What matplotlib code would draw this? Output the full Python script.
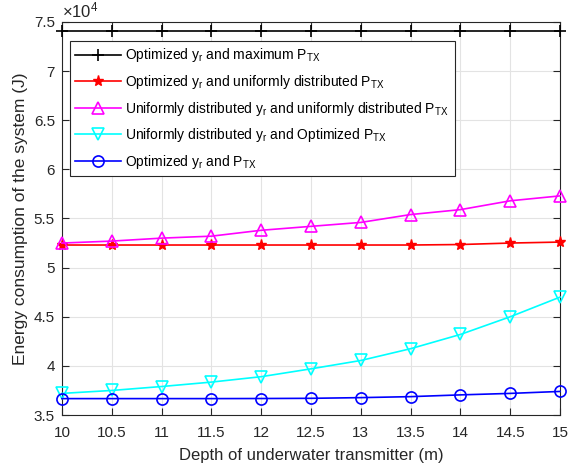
import numpy as np
import matplotlib
matplotlib.use('Agg')
import matplotlib.pyplot as plt
from matplotlib.ticker import FuncFormatter

plt.rcParams['font.family'] = ['Liberation Sans', 'DejaVu Sans']
plt.rcParams['mathtext.fontset'] = 'custom'
plt.rcParams['mathtext.rm'] = 'Liberation Sans'
plt.rcParams['mathtext.default'] = 'regular'

# depth (m) and energy (x 10^4 J)
depth = [10, 10.5, 11, 11.5, 12, 12.5, 13, 13.5, 14, 14.5, 15]
opt_max = [7.41, 7.41, 7.41, 7.41, 7.41, 7.41, 7.41, 7.41, 7.41, 7.41, 7.41]
opt_unif = [5.23, 5.23, 5.23, 5.23, 5.23, 5.23, 5.23, 5.23, 5.235, 5.25, 5.26]
unif_unif = [5.25, 5.27, 5.30, 5.32, 5.38, 5.42, 5.46, 5.54, 5.59, 5.68, 5.73]
unif_opt = [3.72, 3.75, 3.79, 3.835, 3.89, 3.97, 4.055, 4.175, 4.32, 4.50, 4.70]
opt_opt = [3.667, 3.667, 3.667, 3.667, 3.668, 3.67, 3.677, 3.687, 3.705, 3.72, 3.74]

labels = ['Optimized y$_r$ and maximum P$_{TX}$',
          'Optimized y$_r$ and uniformly distributed P$_{TX}$',
          'Uniformly distributed y$_r$ and uniformly distributed P$_{TX}$',
          'Uniformly distributed y$_r$ and Optimized P$_{TX}$',
          'Optimized y$_r$ and P$_{TX}$']

fig = plt.figure(figsize=(5.68, 4.67), dpi=100)
ax = fig.add_axes([0.109, 0.1113, 0.877, 0.8417])

ax.plot(depth, opt_max, '-+', color='k', lw=1.2, ms=9, mew=1.2, label=labels[0], clip_on=False, zorder=3)
ax.plot(depth, opt_unif, '-*', color='r', lw=1.2, ms=8, mew=1, label=labels[1], clip_on=False, zorder=3)
ax.plot(depth, unif_unif, '-^', color='#ff00ff', mfc='none', lw=1.2, ms=9, mew=1.2, label=labels[2], clip_on=False, zorder=3)
ax.plot(depth, unif_opt, '-v', color='#00ffff', mfc='none', lw=1.2, ms=9, mew=1.2, label=labels[3], clip_on=False, zorder=3)
ax.plot(depth, opt_opt, '-o', color='#0000ff', mfc='none', lw=1.2, ms=8, mew=1.2, label=labels[4], clip_on=False, zorder=3)

ax.set_xlim(10, 15)
ax.set_ylim(3.5, 7.5)
ax.set_xticks(np.arange(10, 15.01, 0.5))
ax.set_yticks(np.arange(3.5, 7.51, 0.5))
fmt = FuncFormatter(lambda v, p: ('%g' % v))
ax.xaxis.set_major_formatter(fmt)
ax.yaxis.set_major_formatter(fmt)
ax.tick_params(direction='in', top=True, right=True, labelsize=11, colors='#262626', length=5)
ax.tick_params(axis='x', pad=8)
ax.tick_params(axis='y', pad=5)
ax.grid(True, color='#e3e3e3', lw=0.8)
ax.set_axisbelow(True)
for s in ax.spines.values():
    s.set_color('#262626')
    s.set_linewidth(0.8)

ax.set_xlabel('Depth of underwater transmitter (m)', fontsize=12, color='#262626', labelpad=6)
ax.set_ylabel('Energy consumption of the system (J)', fontsize=12.5, color='#262626', labelpad=4)
ax.text(0.0, 1.005, r'$\times10^4$', transform=ax.transAxes, fontsize=12, color='#262626', va='bottom', ha='left')

leg = ax.legend(loc='upper left', bbox_to_anchor=(0.016, 0.952), fontsize=10, frameon=True,
                fancybox=False, edgecolor='#262626', framealpha=1, handlelength=3.3,
                labelspacing=0.62, borderpad=0.4, handletextpad=0.3, borderaxespad=0)
leg.get_frame().set_linewidth(0.8)

fig.savefig('out.png', dpi=100)
